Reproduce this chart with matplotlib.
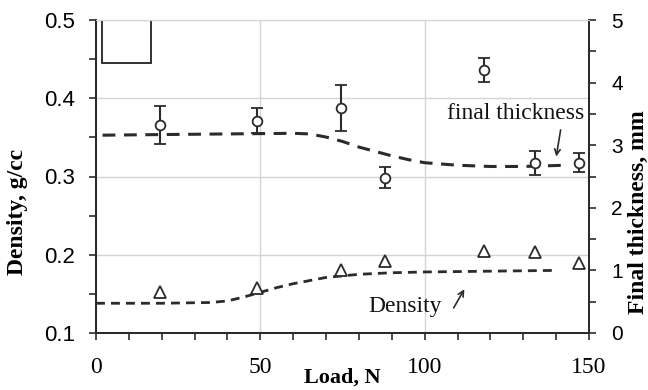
import matplotlib
matplotlib.use("Agg")
import matplotlib.pyplot as plt
from matplotlib.patches import Rectangle
from matplotlib.ticker import MultipleLocator

# measured points
load = [19.5, 49, 74.5, 88, 118, 133.5, 147]
density = [0.152, 0.158, 0.180, 0.192, 0.205, 0.203, 0.190]
thickness = [3.32, 3.39, 3.59, 2.48, 4.20, 2.72, 2.72]
thickness_err = [0.30, 0.20, 0.37, 0.17, 0.19, 0.19, 0.15]

# trend lines
trend_th_load = [2, 20, 40, 60, 65, 70, 75, 80, 85, 90, 95, 100, 110, 120, 130, 143]
trend_th = [3.16, 3.17, 3.18, 3.19, 3.18, 3.13, 3.06, 2.97, 2.90, 2.83, 2.77, 2.72, 2.68, 2.66, 2.66, 2.68]
trend_den_load = [0, 20, 35, 40, 45, 50, 55, 60, 65, 70, 80, 90, 100, 120, 140]
trend_den = [0.138, 0.138, 0.139, 0.141, 0.146, 0.152, 0.158, 0.163, 0.167, 0.171, 0.175, 0.177, 0.178, 0.179, 0.180]

SERIF = "Liberation Serif"
SANS = "Liberation Sans"
INK = "#2b2b2b"


def main() -> None:
    fig = plt.figure(figsize=(6.48, 3.9), dpi=100)
    ax = fig.add_axes([96 / 648, 57 / 390, 493 / 648, 313 / 390])
    ax2 = ax.twinx()

    ax.set_xlim(0, 150)
    ax.set_ylim(0.1, 0.5)
    ax2.set_ylim(0, 5)

    ax.xaxis.set_major_locator(MultipleLocator(50))
    ax.xaxis.set_minor_locator(MultipleLocator(10))
    ax.yaxis.set_major_locator(MultipleLocator(0.1))
    ax.yaxis.set_minor_locator(MultipleLocator(0.05))
    ax2.yaxis.set_major_locator(MultipleLocator(1))
    ax2.yaxis.set_minor_locator(MultipleLocator(0.5))

    ax.grid(True, which="major", color="#d4d4d4", lw=1.0)
    ax.set_axisbelow(True)

    for a in (ax, ax2):
        a.spines["top"].set_color("#d4d4d4")
        for s in ("left", "right", "bottom"):
            a.spines[s].set_linewidth(1.4)
            a.spines[s].set_color(INK)

    ax.tick_params(axis="x", which="both", direction="out", length=5, width=1.2,
                   color=INK, pad=12, labelsize=17)
    ax.tick_params(axis="y", which="both", direction="out", length=5, width=1.2,
                   color=INK, pad=10, labelsize=16)
    ax2.tick_params(axis="y", which="both", direction="out", length=5, width=1.2,
                    color=INK, pad=11, labelsize=15)
    ax.set_yticks([0.1, 0.2, 0.3, 0.4, 0.5])
    ax.set_yticklabels(["0.1", "0.2", "0.3", "0.4", "0.5"])
    for lab in ax.get_xticklabels():
        lab.set_fontfamily(SERIF)
    for lab in ax.get_yticklabels() + ax2.get_yticklabels():
        lab.set_fontfamily(SANS)

    ax.set_xlabel("Load, N", fontfamily=SERIF, fontweight="bold", fontsize=16, va="center")
    ax.xaxis.set_label_coords(0.5, -0.142)
    ax.set_ylabel("Density, g/cc", fontfamily=SERIF, fontweight="bold", fontsize=17, va="center")
    ax.yaxis.set_label_coords(-0.160, 0.387)
    ax2.set_ylabel("Final thickness, mm", fontfamily=SERIF, fontweight="bold", fontsize=17, va="center")
    ax2.yaxis.set_label_coords(1.100, 0.387)

    # trend lines
    ax2.plot(trend_th_load, trend_th, color=INK, lw=2.2, dashes=(4.2, 2.8))
    ax.plot(trend_den_load, trend_den, color=INK, lw=2.0, dashes=(3.2, 2.2))

    # measurements
    ax.plot(load, density, ls="none", marker="^", ms=8, mfc="white", mec=INK, mew=1.3)
    ax2.errorbar(load, thickness, yerr=thickness_err, fmt="o", ms=7, mfc="white", mec=INK,
                 mew=1.3, ecolor=INK, elinewidth=1.5, capsize=4, capthick=1.5)

    # empty legend box
    ax.add_patch(Rectangle((0.0116, 0.862), 0.0994, 0.138, transform=ax.transAxes,
                           fill=False, ec="#222222", lw=1.3))

    ax.text(148.5, 0.381, "final thickness", ha="right", va="center",
            fontfamily=SERIF, fontsize=17, color="#111111")
    ax.annotate("", xy=(139.9, 0.322), xytext=(141.5, 0.363),
                arrowprops=dict(arrowstyle="->", color=INK, lw=1.2))
    ax.text(82.9, 0.1336, "Density", ha="left", va="center",
            fontfamily=SERIF, fontsize=17, color="#111111")
    ax.annotate("", xy=(112.5, 0.159), xytext=(108.4, 0.129),
                arrowprops=dict(arrowstyle="->", color=INK, lw=1.2))

    fig.savefig("out.png", dpi=100)


if __name__ == "__main__":
    main()
